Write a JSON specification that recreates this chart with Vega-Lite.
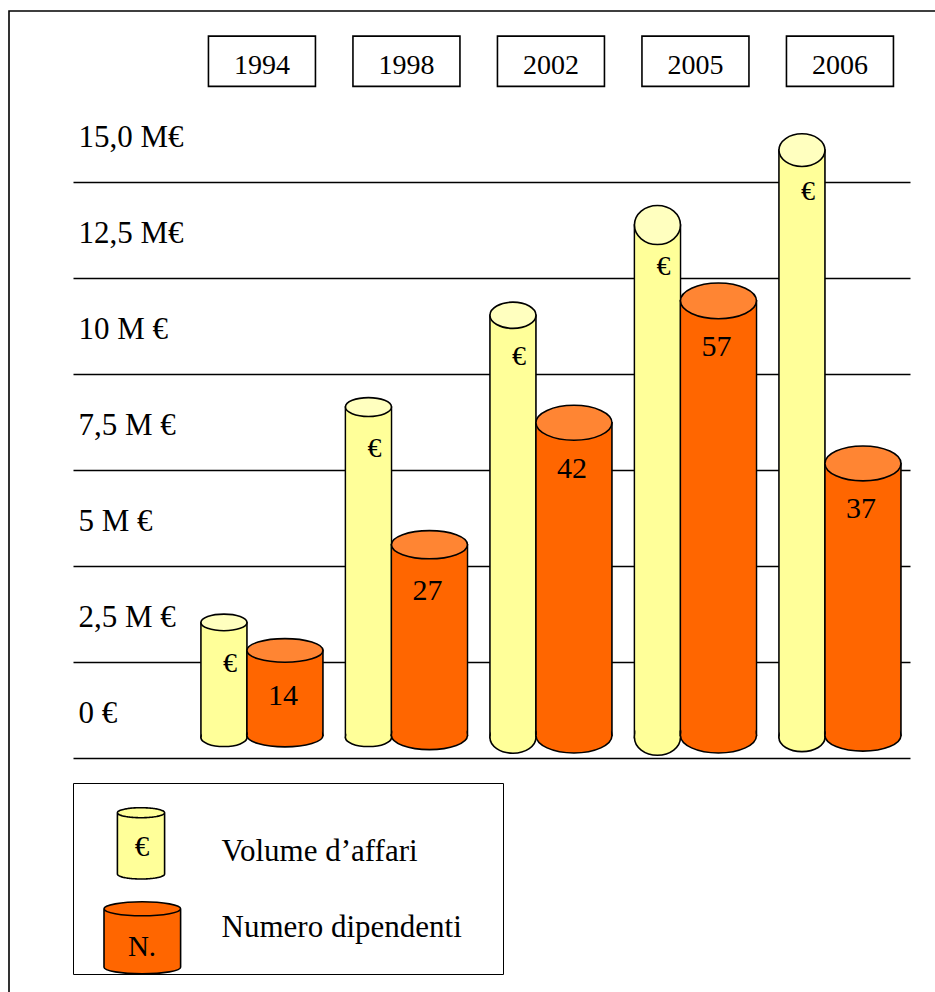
{
  "$schema": "https://vega.github.io/schema/vega-lite/v6.json",
  "width": 837,
  "height": 980,
  "padding": {"left": 73, "top": 12, "right": 25, "bottom": 0},
  "autosize": {"type": "none"},
  "background": "white",
  "config": {"view": {"stroke": null}, "font": "Liberation Serif"},
  "data": {"values": [
    {"anno": "1994", "volume": 3.53, "dipendenti": 14},
    {"anno": "1998", "volume": 9.14, "dipendenti": 27},
    {"anno": "2002", "volume": 11.53, "dipendenti": 42},
    {"anno": "2005", "volume": 13.88, "dipendenti": 57},
    {"anno": "2006", "volume": 15.83, "dipendenti": 37}
  ]},
  "layer": [
    {
      "data": {"values": [{}]},
      "mark": {"type": "rect", "fill": "transparent", "stroke": "black", "strokeWidth": 1.6},
      "encoding": {
        "x": {"datum": 0, "type": "quantitative", "scale": {"domain": [0, 1], "range": [-64, 1000]}, "axis": null},
        "x2": {"datum": 1},
        "y": {"datum": 1, "type": "quantitative", "scale": {"domain": [0, 1], "range": [1100, -1]}, "axis": null},
        "y2": {"datum": 0}
      }
    },
    {
      "transform": [{"fold": ["volume", "dipendenti"], "as": ["serie", "valore"]}],
      "mark": {"type": "point", "filled": false, "opacity": 0, "size": 1, "stroke": "black", "strokeWidth": 1.6},
      "encoding": {
        "fill": {"field": "serie", "type": "nominal",
          "scale": {"domain": ["volume", "dipendenti"], "range": ["#FFFF99", "#FF6600"]},
          "legend": {"title": null, "orient": "none", "legendX": 0, "legendY": 782, "direction": "vertical", "padding": 0, "symbolSize": 12634, "symbolStrokeWidth": 1.6, "symbolOpacity": 1, "labelFont": "Liberation Serif", "labelFontSize": 31, "labelColor": "black", "labelOffset": 33.6, "rowPadding": 3, "labelLimit": 0, "labelExpr": "datum.value == 'volume' ? 'Volume d’affari' : 'Numero dipendenti'"}},
        "shape": {"field": "serie", "type": "nominal",
          "scale": {"domain": ["volume", "dipendenti"], "range": [
            "M0,0",
            "M-0.4715,-0.3328L-0.4715,0.7082A0.6815,0.1157,0,0,0,0.8915,0.7082L0.8915,-0.3328A0.6815,0.1246,0,0,0,-0.4715,-0.3328ZM-0.4715,-0.3328A0.6815,0.1246,0,0,0,0.8915,-0.3328"
          ]},
          "legend": {"title": null, "orient": "none", "legendX": 0, "legendY": 782, "direction": "vertical", "padding": 0, "symbolSize": 12634, "symbolStrokeWidth": 1.6, "symbolOpacity": 1, "labelFont": "Liberation Serif", "labelFontSize": 31, "labelColor": "black", "labelOffset": 33.6, "rowPadding": 3, "labelLimit": 0, "labelExpr": "datum.value == 'volume' ? 'Volume d’affari' : 'Numero dipendenti'"}}
      }
    },
    {
      "transform": [{"fold": ["volume", "dipendenti"], "as": ["serie", "valore"]}],
      "mark": {"type": "point", "filled": true, "fill": "#FFFF99", "opacity": 0, "size": 1, "stroke": "black", "strokeWidth": 1.6},
      "encoding": {
        "strokeDash": {"field": "serie", "type": "nominal",
          "scale": {"domain": ["volume", "dipendenti"], "range": [[1, 0], [1, 0]]},
          "legend": {"title": null, "orient": "none", "legendX": 0, "legendY": 771, "direction": "vertical", "strokeColor": "black", "padding": 0, "symbolSize": 15876, "symbolStrokeWidth": 1.6, "symbolOpacity": 1, "labelFont": "Liberation Serif", "labelFontSize": 29, "labelColor": "black", "labelAlign": "center", "labelOffset": -59, "rowPadding": 0, "labelLimit": 0, "labelExpr": "datum.value == 'volume' ? '€' : 'N.'"}},
        "shape": {"field": "serie", "type": "nominal",
          "scale": {"domain": ["volume", "dipendenti"], "range": [
            "M-0.3111,-0.5444L-0.3111,0.4286A0.3746,0.0794,0,0,0,0.4381,0.4286L0.4381,-0.5444A0.3746,0.0794,0,0,0,-0.3111,-0.5444ZM-0.3111,-0.5444A0.3746,0.0794,0,0,0,0.4381,-0.5444",
            "M5.743,0.365"
          ]},
          "legend": {"title": null, "orient": "none", "legendX": 0, "legendY": 771, "direction": "vertical", "strokeColor": "black", "padding": 0, "symbolSize": 15876, "symbolStrokeWidth": 1.6, "symbolOpacity": 1, "labelFont": "Liberation Serif", "labelFontSize": 29, "labelColor": "black", "labelAlign": "center", "labelOffset": -59, "rowPadding": 0, "labelLimit": 0, "labelExpr": "datum.value == 'volume' ? '€' : 'N.'"}}
      }
    },
    {
      "layer": [
        {
          "mark": {"type": "bar", "width": 46, "xOffset": -38, "fill": "#FFFF99", "stroke": "black", "strokeWidth": 1.6},
          "encoding": {
            "x": {"field": "anno", "type": "nominal", "scale": {"type": "band", "domain": ["1994", "1998", "2002", "2005", "2006"], "paddingInner": 0.1557, "paddingOuter": 0.474, "align": 0.934, "round": false},
              "axis": {"orient": "top", "domain": false, "ticks": false, "tickSize": 0, "labelPadding": -53.5, "labelBaseline": "middle", "labelAngle": 0, "labelFont": "Liberation Serif", "labelFontSize": 28, "labelColor": "black", "title": null, "zindex": 1}},
            "y": {"field": "volume", "type": "quantitative", "scale": {"domain": [-6.094, 19.427], "nice": false, "zero": false},
              "axis": {"values": [0, 2.5, 5, 7.5, 10, 12.5, 15], "grid": true, "gridColor": "black", "gridWidth": 1.6, "gridOpacity": 1, "domain": false, "ticks": false, "tickSize": 0, "labelAlign": "left", "labelBaseline": "middle", "labelPadding": -5, "labelOffset": -44, "labelFont": "Liberation Serif", "labelFontSize": 31, "labelColor": "black", "title": null, "zindex": 0,
                "labelExpr": "datum.value == 15 ? '15,0 M€' : datum.value == 12.5 ? '12,5 M€' : datum.value == 10 ? '10 M €' : datum.value == 7.5 ? '7,5 M €' : datum.value == 5 ? '5 M €' : datum.value == 2.5 ? '2,5 M €' : '0 €'"}},
            "y2": {"datum": 0.531}
          }
        },
        {
          "mark": {"type": "point", "filled": true, "opacity": 1, "size": 2116, "xOffset": -38, "fill": "#FFFF99", "stroke": "black", "strokeWidth": 1.6},
          "encoding": {
            "x": {"field": "anno", "type": "nominal", "scale": {"type": "band", "domain": ["1994", "1998", "2002", "2005", "2006"], "paddingInner": 0.1557, "paddingOuter": 0.474, "align": 0.934, "round": false},
              "axis": {"orient": "top", "domain": false, "ticks": false, "tickSize": 0, "labelPadding": -53.5, "labelBaseline": "middle", "labelAngle": 0, "labelFont": "Liberation Serif", "labelFontSize": 28, "labelColor": "black", "title": null, "zindex": 1}},
            "y": {"datum": 0.531, "type": "quantitative", "scale": {"domain": [-6.094, 19.427], "nice": false, "zero": false},
              "axis": {"values": [0, 2.5, 5, 7.5, 10, 12.5, 15], "grid": true, "gridColor": "black", "gridWidth": 1.6, "gridOpacity": 1, "domain": false, "ticks": false, "tickSize": 0, "labelAlign": "left", "labelBaseline": "middle", "labelPadding": -5, "labelOffset": -44, "labelFont": "Liberation Serif", "labelFontSize": 31, "labelColor": "black", "title": null, "zindex": 0,
                "labelExpr": "datum.value == 15 ? '15,0 M€' : datum.value == 12.5 ? '12,5 M€' : datum.value == 10 ? '10 M €' : datum.value == 7.5 ? '7,5 M €' : datum.value == 5 ? '5 M €' : datum.value == 2.5 ? '2,5 M €' : '0 €'"}},
            "shape": {"field": "anno", "type": "nominal", "legend": null, "scale": {"domain": ["1994", "1998", "2002", "2005", "2006"], "range": [
              "M-1,0A1,0.39,0,1,1,1,0A1,0.39,0,1,1,-1,0Z",
              "M-1,0A1,0.39,0,1,1,1,0A1,0.39,0,1,1,-1,0Z",
              "M-1,0A1,0.68,0,1,1,1,0A1,0.68,0,1,1,-1,0Z",
              "M-1,0A1,0.77,0,1,1,1,0A1,0.77,0,1,1,-1,0Z",
              "M-1,0A1,0.61,0,1,1,1,0A1,0.61,0,1,1,-1,0Z"
            ]}}
          }
        },
        {
          "mark": {"type": "bar", "width": 44, "xOffset": -38, "fill": "#FFFF99"},
          "encoding": {
            "x": {"field": "anno", "type": "nominal", "scale": {"type": "band", "domain": ["1994", "1998", "2002", "2005", "2006"], "paddingInner": 0.1557, "paddingOuter": 0.474, "align": 0.934, "round": false},
              "axis": {"orient": "top", "domain": false, "ticks": false, "tickSize": 0, "labelPadding": -53.5, "labelBaseline": "middle", "labelAngle": 0, "labelFont": "Liberation Serif", "labelFontSize": 28, "labelColor": "black", "title": null, "zindex": 1}},
            "y": {"field": "volume", "type": "quantitative", "scale": {"domain": [-6.094, 19.427], "nice": false, "zero": false},
              "axis": {"values": [0, 2.5, 5, 7.5, 10, 12.5, 15], "grid": true, "gridColor": "black", "gridWidth": 1.6, "gridOpacity": 1, "domain": false, "ticks": false, "tickSize": 0, "labelAlign": "left", "labelBaseline": "middle", "labelPadding": -5, "labelOffset": -44, "labelFont": "Liberation Serif", "labelFontSize": 31, "labelColor": "black", "title": null, "zindex": 0,
                "labelExpr": "datum.value == 15 ? '15,0 M€' : datum.value == 12.5 ? '12,5 M€' : datum.value == 10 ? '10 M €' : datum.value == 7.5 ? '7,5 M €' : datum.value == 5 ? '5 M €' : datum.value == 2.5 ? '2,5 M €' : '0 €'"}},
            "y2": {"datum": 0.531}
          }
        },
        {
          "mark": {"type": "point", "filled": true, "opacity": 1, "size": 2116, "xOffset": -38, "fill": "#FFFFBF", "stroke": "black", "strokeWidth": 1.6},
          "encoding": {
            "x": {"field": "anno", "type": "nominal", "scale": {"type": "band", "domain": ["1994", "1998", "2002", "2005", "2006"], "paddingInner": 0.1557, "paddingOuter": 0.474, "align": 0.934, "round": false},
              "axis": {"orient": "top", "domain": false, "ticks": false, "tickSize": 0, "labelPadding": -53.5, "labelBaseline": "middle", "labelAngle": 0, "labelFont": "Liberation Serif", "labelFontSize": 28, "labelColor": "black", "title": null, "zindex": 1}},
            "y": {"field": "volume", "type": "quantitative", "scale": {"domain": [-6.094, 19.427], "nice": false, "zero": false},
              "axis": {"values": [0, 2.5, 5, 7.5, 10, 12.5, 15], "grid": true, "gridColor": "black", "gridWidth": 1.6, "gridOpacity": 1, "domain": false, "ticks": false, "tickSize": 0, "labelAlign": "left", "labelBaseline": "middle", "labelPadding": -5, "labelOffset": -44, "labelFont": "Liberation Serif", "labelFontSize": 31, "labelColor": "black", "title": null, "zindex": 0,
                "labelExpr": "datum.value == 15 ? '15,0 M€' : datum.value == 12.5 ? '12,5 M€' : datum.value == 10 ? '10 M €' : datum.value == 7.5 ? '7,5 M €' : datum.value == 5 ? '5 M €' : datum.value == 2.5 ? '2,5 M €' : '0 €'"}},
            "shape": {"field": "anno", "type": "nominal", "legend": null, "scale": {"domain": ["1994", "1998", "2002", "2005", "2006"], "range": [
              "M-1,0A1,0.36,0,1,1,1,0A1,0.36,0,1,1,-1,0Z",
              "M-1,0A1,0.41,0,1,1,1,0A1,0.41,0,1,1,-1,0Z",
              "M-1,0A1,0.57,0,1,1,1,0A1,0.57,0,1,1,-1,0Z",
              "M-1,0A1,0.85,0,1,1,1,0A1,0.85,0,1,1,-1,0Z",
              "M-1,0A1,0.71,0,1,1,1,0A1,0.71,0,1,1,-1,0Z"
            ]}}
          }
        },
        {
          "mark": {"type": "text", "text": "€", "xOffset": -38, "dx": 6, "dy": 42, "align": "center", "baseline": "middle", "font": "Liberation Serif", "fontSize": 28, "color": "black"},
          "encoding": {
            "x": {"field": "anno", "type": "nominal", "scale": {"type": "band", "domain": ["1994", "1998", "2002", "2005", "2006"], "paddingInner": 0.1557, "paddingOuter": 0.474, "align": 0.934, "round": false},
              "axis": {"orient": "top", "domain": false, "ticks": false, "tickSize": 0, "labelPadding": -53.5, "labelBaseline": "middle", "labelAngle": 0, "labelFont": "Liberation Serif", "labelFontSize": 28, "labelColor": "black", "title": null, "zindex": 1}},
            "y": {"field": "volume", "type": "quantitative", "scale": {"domain": [-6.094, 19.427], "nice": false, "zero": false},
              "axis": {"values": [0, 2.5, 5, 7.5, 10, 12.5, 15], "grid": true, "gridColor": "black", "gridWidth": 1.6, "gridOpacity": 1, "domain": false, "ticks": false, "tickSize": 0, "labelAlign": "left", "labelBaseline": "middle", "labelPadding": -5, "labelOffset": -44, "labelFont": "Liberation Serif", "labelFontSize": 31, "labelColor": "black", "title": null, "zindex": 0,
                "labelExpr": "datum.value == 15 ? '15,0 M€' : datum.value == 12.5 ? '12,5 M€' : datum.value == 10 ? '10 M €' : datum.value == 7.5 ? '7,5 M €' : datum.value == 5 ? '5 M €' : datum.value == 2.5 ? '2,5 M €' : '0 €'"}}
          }
        },
        {
          "mark": {"type": "bar", "width": 107, "fill": "white", "stroke": "black", "strokeWidth": 1.6},
          "encoding": {
            "x": {"field": "anno", "type": "nominal", "scale": {"type": "band", "domain": ["1994", "1998", "2002", "2005", "2006"], "paddingInner": 0.1557, "paddingOuter": 0.474, "align": 0.934, "round": false},
              "axis": {"orient": "top", "domain": false, "ticks": false, "tickSize": 0, "labelPadding": -53.5, "labelBaseline": "middle", "labelAngle": 0, "labelFont": "Liberation Serif", "labelFontSize": 28, "labelColor": "black", "title": null, "zindex": 1}},
            "y": {"datum": 18.8, "type": "quantitative", "scale": {"domain": [-6.094, 19.427], "nice": false, "zero": false},
              "axis": {"values": [0, 2.5, 5, 7.5, 10, 12.5, 15], "grid": true, "gridColor": "black", "gridWidth": 1.6, "gridOpacity": 1, "domain": false, "ticks": false, "tickSize": 0, "labelAlign": "left", "labelBaseline": "middle", "labelPadding": -5, "labelOffset": -44, "labelFont": "Liberation Serif", "labelFontSize": 31, "labelColor": "black", "title": null, "zindex": 0,
                "labelExpr": "datum.value == 15 ? '15,0 M€' : datum.value == 12.5 ? '12,5 M€' : datum.value == 10 ? '10 M €' : datum.value == 7.5 ? '7,5 M €' : datum.value == 5 ? '5 M €' : datum.value == 2.5 ? '2,5 M €' : '0 €'"}},
            "y2": {"datum": 17.49}
          }
        }
      ],
      "resolve": {"scale": {"shape": "independent"}}
    },
    {
      "layer": [
        {
          "mark": {"type": "bar", "width": 76, "xOffset": 23, "fill": "#FF6600", "stroke": "black", "strokeWidth": 1.6},
          "encoding": {
            "x": {"field": "anno", "type": "nominal", "scale": {"type": "band", "domain": ["1994", "1998", "2002", "2005", "2006"], "paddingInner": 0.1557, "paddingOuter": 0.474, "align": 0.934, "round": false}, "axis": null},
            "y": {"field": "dipendenti", "type": "quantitative", "scale": {"domain": [-28.02, 92.53], "nice": false, "zero": false}, "axis": null},
            "y2": {"datum": 3.53}
          }
        },
        {
          "mark": {"type": "point", "filled": true, "opacity": 1, "size": 5776, "xOffset": 23, "fill": "#FF6600", "stroke": "black", "strokeWidth": 1.6},
          "encoding": {
            "x": {"field": "anno", "type": "nominal", "scale": {"type": "band", "domain": ["1994", "1998", "2002", "2005", "2006"], "paddingInner": 0.1557, "paddingOuter": 0.474, "align": 0.934, "round": false}, "axis": null},
            "y": {"datum": 3.53, "type": "quantitative", "scale": {"domain": [-28.02, 92.53], "nice": false, "zero": false}, "axis": null},
            "shape": {"field": "anno", "type": "nominal", "legend": null, "scale": {"domain": ["1994", "1998", "2002", "2005", "2006"], "range": [
              "M-1,0A1,0.30,0,1,1,1,0A1,0.30,0,1,1,-1,0Z",
              "M-1,0A1,0.37,0,1,1,1,0A1,0.37,0,1,1,-1,0Z",
              "M-1,0A1,0.46,0,1,1,1,0A1,0.46,0,1,1,-1,0Z",
              "M-1,0A1,0.46,0,1,1,1,0A1,0.46,0,1,1,-1,0Z",
              "M-1,0A1,0.41,0,1,1,1,0A1,0.41,0,1,1,-1,0Z"
            ]}}
          }
        },
        {
          "mark": {"type": "bar", "width": 74, "xOffset": 23, "fill": "#FF6600"},
          "encoding": {
            "x": {"field": "anno", "type": "nominal", "scale": {"type": "band", "domain": ["1994", "1998", "2002", "2005", "2006"], "paddingInner": 0.1557, "paddingOuter": 0.474, "align": 0.934, "round": false}, "axis": null},
            "y": {"field": "dipendenti", "type": "quantitative", "scale": {"domain": [-28.02, 92.53], "nice": false, "zero": false}, "axis": null},
            "y2": {"datum": 3.53}
          }
        },
        {
          "mark": {"type": "point", "filled": true, "opacity": 1, "size": 5776, "xOffset": 23, "fill": "#FF8533", "stroke": "black", "strokeWidth": 1.6},
          "encoding": {
            "x": {"field": "anno", "type": "nominal", "scale": {"type": "band", "domain": ["1994", "1998", "2002", "2005", "2006"], "paddingInner": 0.1557, "paddingOuter": 0.474, "align": 0.934, "round": false}, "axis": null},
            "y": {"field": "dipendenti", "type": "quantitative", "scale": {"domain": [-28.02, 92.53], "nice": false, "zero": false}, "axis": null},
            "shape": {"field": "anno", "type": "nominal", "legend": null, "scale": {"domain": ["1994", "1998", "2002", "2005", "2006"], "range": [
              "M-1,0A1,0.31,0,1,1,1,0A1,0.31,0,1,1,-1,0Z",
              "M-1,0A1,0.37,0,1,1,1,0A1,0.37,0,1,1,-1,0Z",
              "M-1,0A1,0.46,0,1,1,1,0A1,0.46,0,1,1,-1,0Z",
              "M-1,0A1,0.47,0,1,1,1,0A1,0.47,0,1,1,-1,0Z",
              "M-1,0A1,0.46,0,1,1,1,0A1,0.46,0,1,1,-1,0Z"
            ]}}
          }
        },
        {
          "mark": {"type": "text", "xOffset": 23, "dx": -2, "dy": 46, "align": "center", "baseline": "middle", "font": "Liberation Serif", "fontSize": 30, "color": "black"},
          "encoding": {
            "x": {"field": "anno", "type": "nominal", "scale": {"type": "band", "domain": ["1994", "1998", "2002", "2005", "2006"], "paddingInner": 0.1557, "paddingOuter": 0.474, "align": 0.934, "round": false}, "axis": null},
            "y": {"field": "dipendenti", "type": "quantitative", "scale": {"domain": [-28.02, 92.53], "nice": false, "zero": false}, "axis": null},
            "text": {"field": "dipendenti", "type": "quantitative"}
          }
        }
      ],
      "resolve": {"scale": {"shape": "independent"}}
    }
  ],
  "resolve": {"scale": {"x": "independent", "y": "independent", "shape": "independent", "fill": "independent", "strokeDash": "independent"}}
}
